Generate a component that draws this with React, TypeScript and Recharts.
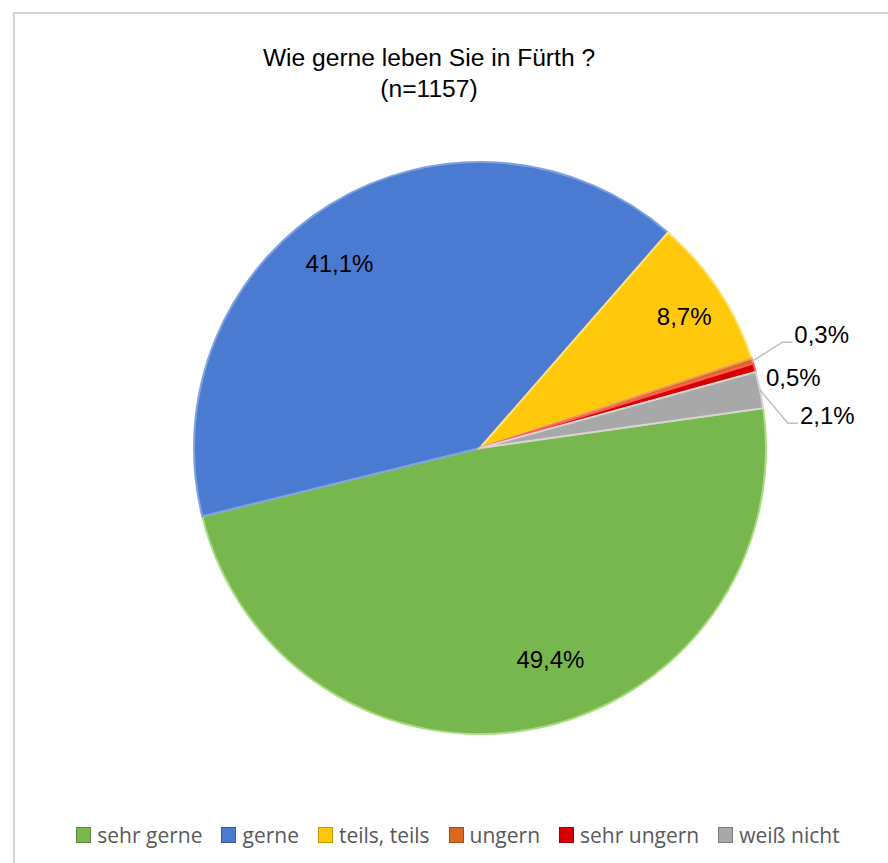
import React from "react";
import { PieChart, Pie, Cell, Legend } from "recharts";

const categories = ["sehr gerne", "gerne", "teils, teils", "ungern", "sehr ungern", "weiß nicht"];
const shares = [49.4, 41.1, 8.7, 0.3, 0.5, 2.1];
const labels = ["49,4%", "41,1%", "8,7%", "0,3%", "0,5%", "2,1%"];

const COLORS = ["#78b64e", "#4a7bd0", "#ffc80a", "#d8691e", "#d70000", "#a8a8a8"];
const EDGES = ["#a9dd82", "#7ea3e4", "#ffe27a", "#f09a5a", "#ff5a5a", "#d6d6d6"];

// label layout: radius factor, angle nudge (deg), anchor, leader line
const LABEL_LAYOUT = [
  { r: 0.78, da: 7.5, anchor: "middle", leader: false },
  { r: 0.81, da: 6, anchor: "middle", leader: false },
  { r: 0.85, da: -0.7, anchor: "middle", leader: false },
  { r: 1.12, da: 1.6, anchor: "start", leader: true },
  { r: 1.03, da: -2.4, anchor: "start", leader: false },
  { r: 1.08, da: -7.1, anchor: "start", leader: true },
];

const data = categories.map((name, i) => ({ name, value: shares[i], label: labels[i] }));

const RAD = Math.PI / 180;
const polar = (cx: number, cy: number, r: number, a: number) => ({
  x: cx + r * Math.cos(-a * RAD),
  y: cy + r * Math.sin(-a * RAD),
});

const renderLabel = (props: any) => {
  const { cx, cy, midAngle, outerRadius, index } = props;
  const cfg = LABEL_LAYOUT[index];
  const p = polar(cx, cy, outerRadius * cfg.r, midAngle + cfg.da);
  const style = { fontFamily: "'Liberation Sans', Arial, sans-serif", fontSize: 24 };
  if (cfg.leader) {
    const s = polar(cx, cy, outerRadius, midAngle);
    return (
      <g>
        <polyline
          points={`${s.x},${s.y} ${p.x},${p.y} ${p.x + 10},${p.y}`}
          fill="none"
          stroke="#bfbfbf"
          strokeWidth={1.5}
        />
        <text x={p.x + 12} y={p.y - 8} textAnchor="start" dominantBaseline="central" fill="#000" style={style}>
          {data[index].label}
        </text>
      </g>
    );
  }
  return (
    <text x={p.x} y={p.y} textAnchor={cfg.anchor} dominantBaseline="central" fill="#000" style={style}>
      {data[index].label}
    </text>
  );
};

const renderLegend = () => (
  <div
    style={{
      display: "flex",
      justifyContent: "center",
      alignItems: "center",
      fontFamily: "'Open Sans', sans-serif",
      fontSize: 21,
      color: "#595959",
      whiteSpace: "nowrap",
    }}
  >
    {categories.map((c, i) => (
      <div key={c} style={{ display: "flex", alignItems: "center", marginRight: i < categories.length - 1 ? 19 : 0 }}>
        <span
          style={{
            display: "inline-block",
            width: 13,
            height: 14,
            background: COLORS[i],
            border: "1px solid rgba(0,0,0,0.25)",
            marginRight: 6,
          }}
        />
        <span>{c}</span>
      </div>
    ))}
  </div>
);

export default function App() {
  return (
    <div style={{ position: "absolute", left: 0, top: 0, width: 888, height: 863, background: "#fff", overflow: "hidden" }}>
      <div
        style={{
          position: "absolute",
          left: 13,
          top: 12,
          width: 900,
          height: 900,
          border: "2px solid #d4d4d4",
          boxSizing: "border-box",
        }}
      />
      <div
        style={{
          position: "absolute",
          left: 129,
          top: 42,
          width: 600,
          textAlign: "center",
          fontFamily: "'Liberation Sans', Arial, sans-serif",
          fontSize: 24.6,
          lineHeight: "31px",
          color: "#000",
        }}
      >
        Wie gerne leben Sie in Fürth ?
        <br />
        (n=1157)
      </div>
      <div style={{ position: "absolute", left: 0, top: 0 }}>
        <PieChart width={888} height={863} margin={{ top: 0, right: 0, bottom: 0, left: 0 }}>
          <Pie
            data={data}
            dataKey="value"
            nameKey="name"
            cx={480}
            cy={448}
            outerRadius={286}
            startAngle={8}
            endAngle={-352}
            label={renderLabel}
            labelLine={false}
            isAnimationActive={false}
          >
            {data.map((d, i) => (
              <Cell key={d.name} fill={COLORS[i]} stroke={EDGES[i]} strokeWidth={2} />
            ))}
          </Pie>
          <Legend
            content={renderLegend}
            wrapperStyle={{ position: "absolute", left: 14, top: 821, width: 888 }}
          />
        </PieChart>
      </div>
    </div>
  );
}
